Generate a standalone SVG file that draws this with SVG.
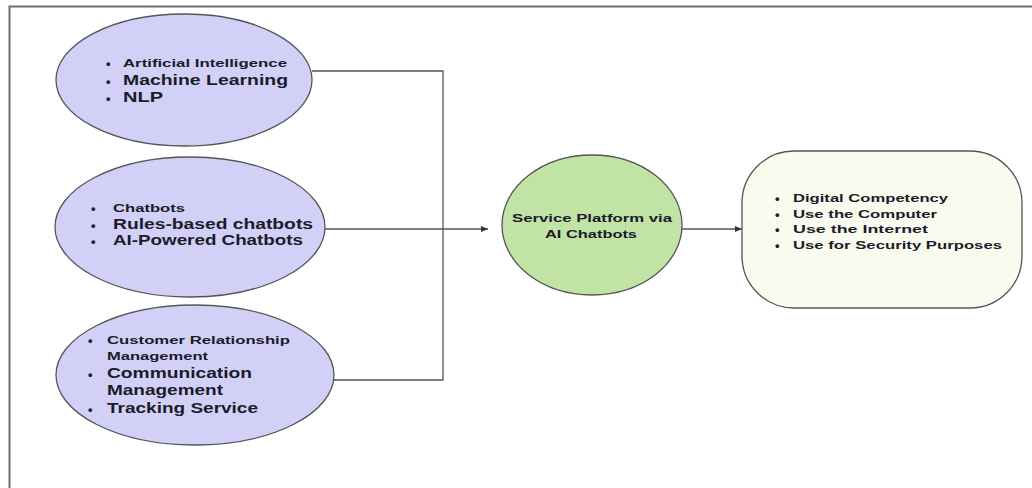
<svg xmlns="http://www.w3.org/2000/svg" width="1032" height="488" viewBox="0 0 1032 488">
<style>
.t{font-family:"Liberation Sans",Arial,sans-serif;font-weight:bold;fill:#1b1b2a}
.s{font-size:11.5px}
.l{font-size:14px}
.b{font-family:"Liberation Sans",Arial,sans-serif;font-weight:bold;font-size:13px;fill:#1b1b2a}
.p{fill:#d3d0f8;stroke:#555;stroke-width:1.3}
.c{fill:none;stroke:#555;stroke-width:1.3}
</style>
<defs>
<marker id="ah" markerWidth="8" markerHeight="8" refX="7" refY="4" orient="auto" markerUnits="userSpaceOnUse">
<path d="M0,1 L7,4 L0,7 Z" fill="#333"/>
</marker>
</defs>
<rect x="0" y="0" width="1032" height="488" fill="#fff"/>
<path d="M9.5,488 V6.5 H1032" fill="none" stroke="#6f6f6f" stroke-width="2"/>
<g id="connectors">
<path class="c" d="M312,71 H443 V380 H333"/>
<path class="c" d="M325,229 H488" marker-end="url(#ah)"/>
<path class="c" d="M682,229 H742" marker-end="url(#ah)"/>
</g>
<g id="node-ai">
<ellipse class="p" cx="184" cy="80" rx="128" ry="66"/>
<text class="b" x="106" y="68">•</text>
<text class="b" x="106" y="86">•</text>
<text class="b" x="106" y="103">•</text>
<text class="t s" x="123" y="67" textLength="164" lengthAdjust="spacingAndGlyphs">Artificial Intelligence</text>
<text class="t l" x="123" y="85" textLength="165" lengthAdjust="spacingAndGlyphs">Machine Learning</text>
<text class="t l" x="123" y="102" textLength="40" lengthAdjust="spacingAndGlyphs">NLP</text>
</g>
<g id="node-chatbots">
<ellipse class="p" cx="190" cy="227" rx="135" ry="70"/>
<text class="b" x="91" y="213">•</text>
<text class="b" x="91" y="230">•</text>
<text class="b" x="91" y="246">•</text>
<text class="t s" x="113" y="212" textLength="72" lengthAdjust="spacingAndGlyphs">Chatbots</text>
<text class="t l" x="113" y="229" textLength="200" lengthAdjust="spacingAndGlyphs">Rules-based chatbots</text>
<text class="t l" x="113" y="245" textLength="190" lengthAdjust="spacingAndGlyphs">AI-Powered Chatbots</text>
</g>
<g id="node-crm">
<ellipse class="p" cx="195" cy="375" rx="139" ry="70"/>
<text class="b" x="88" y="345">•</text>
<text class="b" x="88" y="379">•</text>
<text class="b" x="88" y="414">•</text>
<text class="t s" x="107" y="344" textLength="183" lengthAdjust="spacingAndGlyphs">Customer Relationship</text>
<text class="t s" x="107" y="360" textLength="101" lengthAdjust="spacingAndGlyphs">Management</text>
<text class="t l" x="107" y="378" textLength="145" lengthAdjust="spacingAndGlyphs">Communication</text>
<text class="t l" x="107" y="395" textLength="116" lengthAdjust="spacingAndGlyphs">Management</text>
<text class="t l" x="107" y="413" textLength="151" lengthAdjust="spacingAndGlyphs">Tracking Service</text>
</g>
<g id="node-platform">
<ellipse cx="592" cy="225" rx="90" ry="70" fill="#c2e3a6" stroke="#555" stroke-width="1.3"/>
<text class="t s" x="512" y="222" textLength="160" lengthAdjust="spacingAndGlyphs">Service Platform via</text>
<text class="t s" x="545" y="238" textLength="92" lengthAdjust="spacingAndGlyphs">AI Chatbots</text>
</g>
<g id="node-competency">
<rect x="742" y="151" width="280" height="157" rx="52" ry="52" fill="#f8fbee" stroke="#555" stroke-width="1.3"/>
<text class="b" x="775" y="203">•</text>
<text class="b" x="775" y="219">•</text>
<text class="b" x="775" y="234">•</text>
<text class="b" x="775" y="250">•</text>
<text class="t s" x="793" y="202" textLength="155" lengthAdjust="spacingAndGlyphs">Digital Competency</text>
<text class="t s" x="793" y="218" textLength="144" lengthAdjust="spacingAndGlyphs">Use the Computer</text>
<text class="t s" x="793" y="233" textLength="135" lengthAdjust="spacingAndGlyphs">Use the Internet</text>
<text class="t s" x="793" y="249" textLength="209" lengthAdjust="spacingAndGlyphs">Use for Security Purposes</text>
</g>
</svg>
